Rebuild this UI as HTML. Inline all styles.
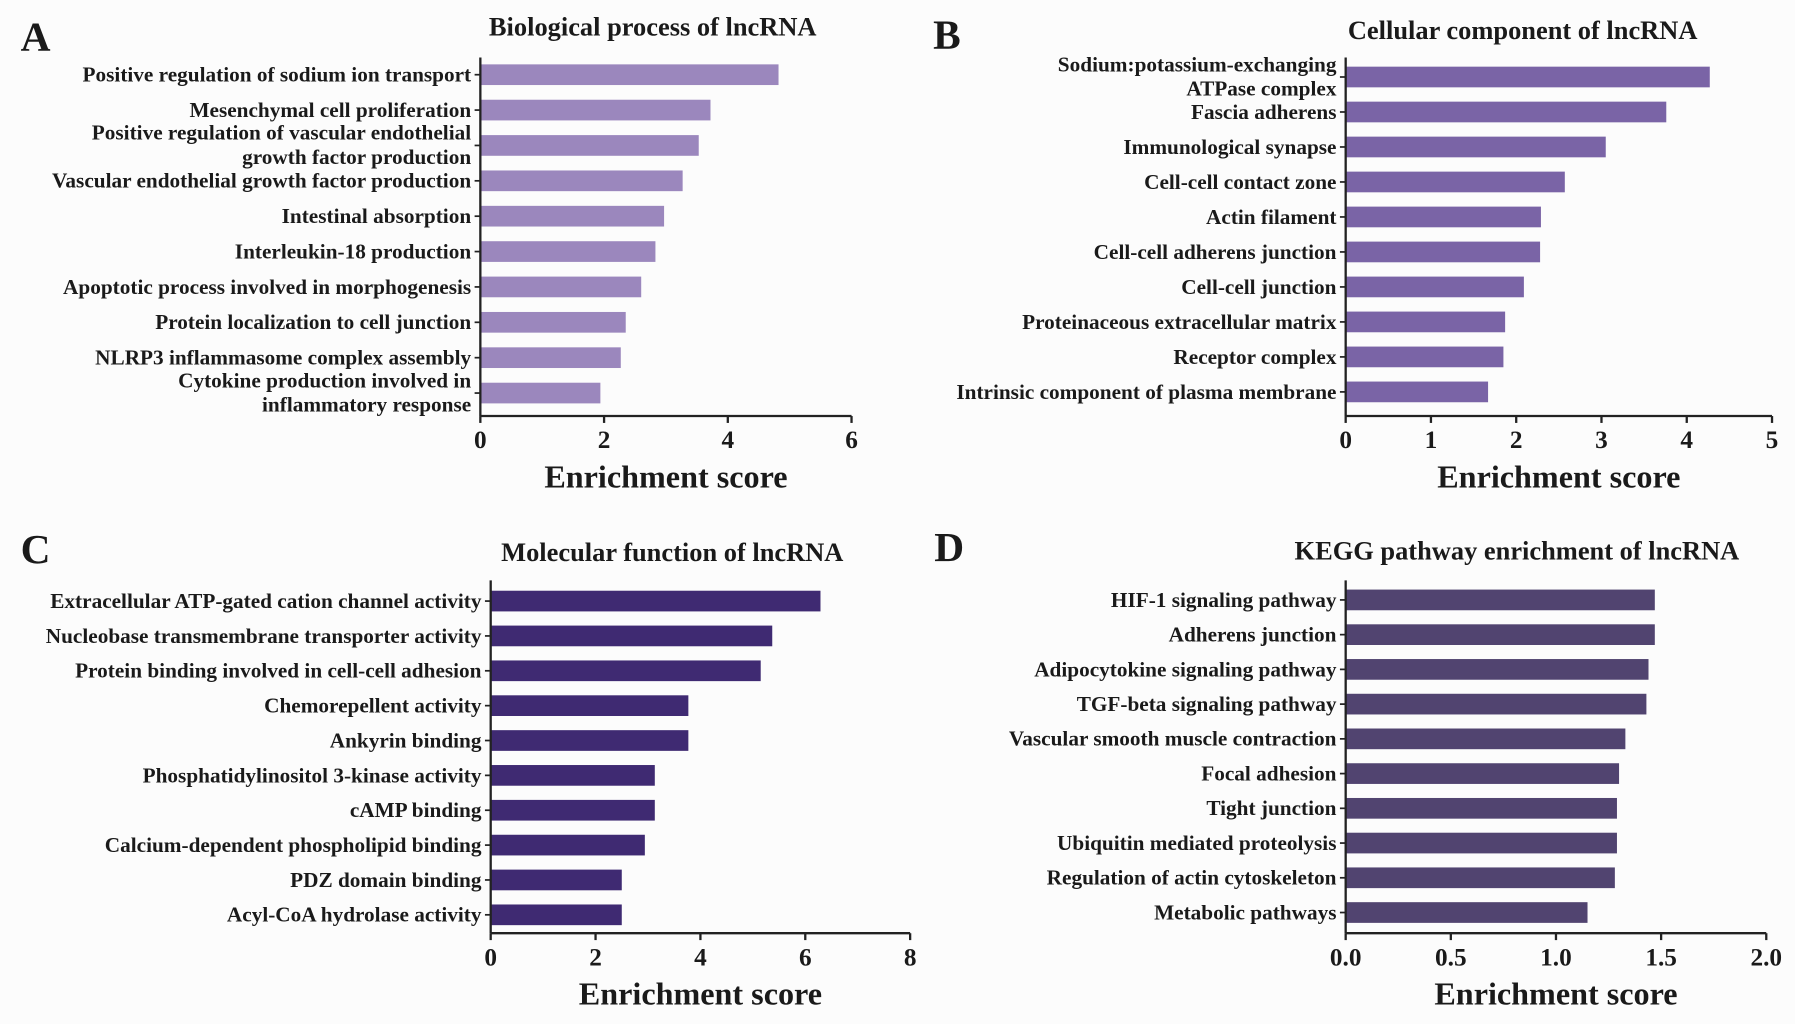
<!DOCTYPE html>
<html><head><meta charset="utf-8"><style>
html,body{margin:0;padding:0;background:#fcfcfc;}
svg{display:block;}
text{font-family:"Liberation Serif",serif;font-weight:bold;fill:#1a1a1a;}
</style></head><body>
<svg id="fig" width="1795" height="1024" viewBox="0 0 1562 891" preserveAspectRatio="none"></svg>
<script>
const catsA = [["Positive regulation of sodium ion transport"],["Mesenchymal cell proliferation"],["Positive regulation of vascular endothelial","growth factor production"],["Vascular endothelial growth factor production"],["Intestinal absorption"],["Interleukin-18 production"],["Apoptotic process involved in morphogenesis"],["Protein localization to cell junction"],["NLRP3 inflammasome complex assembly"],["Cytokine production involved in","inflammatory response"]];
const valsA = [4.82,3.72,3.53,3.27,2.97,2.83,2.6,2.35,2.27,1.94];
const ticksA = ["0","2","4","6"];
const catsB = [["Sodium:potassium-exchanging","ATPase complex"],["Fascia adherens"],["Immunological synapse"],["Cell-cell contact zone"],["Actin filament"],["Cell-cell adherens junction"],["Cell-cell junction"],["Proteinaceous extracellular matrix"],["Receptor complex"],["Intrinsic component of plasma membrane"]];
const valsB = [4.27,3.76,3.05,2.57,2.29,2.28,2.09,1.87,1.85,1.67];
const ticksB = ["0","1","2","3","4","5"];
const catsC = [["Extracellular ATP-gated cation channel activity"],["Nucleobase transmembrane transporter activity"],["Protein binding involved in cell-cell adhesion"],["Chemorepellent activity"],["Ankyrin binding"],["Phosphatidylinositol 3-kinase activity"],["cAMP binding"],["Calcium-dependent phospholipid binding"],["PDZ domain binding"],["Acyl-CoA hydrolase activity"]];
const valsC = [6.29,5.37,5.15,3.77,3.77,3.13,3.13,2.94,2.5,2.5];
const ticksC = ["0","2","4","6","8"];
const catsD = [["HIF-1 signaling pathway"],["Adherens junction"],["Adipocytokine signaling pathway"],["TGF-beta signaling pathway"],["Vascular smooth muscle contraction"],["Focal adhesion"],["Tight junction"],["Ubiquitin mediated proteolysis"],["Regulation of actin cytoskeleton"],["Metabolic pathways"]];
const valsD = [1.47,1.47,1.44,1.43,1.33,1.30,1.29,1.29,1.28,1.15];
const ticksD = ["0.0","0.5","1.0","1.5","2.0"];

const NS="http://www.w3.org/2000/svg";
const svg=document.getElementById('fig');
function mk(tag,attrs,parent,txt){const e=document.createElementNS(NS,tag);for(const k in attrs)e.setAttribute(k,attrs[k]);if(txt!==undefined)e.textContent=txt;(parent||svg).appendChild(e);return e;}

function panel(p,cats,vals,ticks){
  const g=mk('g',{});
  
  
  const tmax=parseFloat(ticks[ticks.length-1]);
  const x=v=>p.x0+(v/tmax)*(p.x1-p.x0);
  const y=i=>p.yFirst+i*(p.yLast-p.yFirst)/(cats.length-1);
  const L=mk('text',{x:p.lx,y:p.ly,'font-size':36},g,p.id.toUpperCase());
  
  
  const T=mk('text',{x:p.tx,y:p.ty,'font-size':23,'text-anchor':'middle'},g,p.title);
  
  
  vals.forEach((v,i)=>{
    const r=mk('rect',{x:p.x0,y:y(i)-9,width:x(v)-p.x0,height:18,fill:p.color},g);
    
    
    mk('line',{x1:p.x0-5,x2:p.x0,y1:y(i),y2:y(i),stroke:'#222','stroke-width':1.5},g);
    const lines=cats[i];
    lines.forEach((s,j)=>{
      const yy = lines.length===1 ? y(i)+6 : y(i)-5+j*21;
      const t=mk('text',{x:p.x0-8,y:yy,'font-size':18.5,'text-anchor':'end'},g,s);
      
      
    });
  });
  mk('line',{x1:p.x0,x2:p.x0,y1:p.yTop,y2:p.yBot,stroke:'#222','stroke-width':2},g);
  mk('line',{x1:p.x0,x2:p.x1,y1:p.yBot,y2:p.yBot,stroke:'#222','stroke-width':2},g);
  ticks.forEach(tk=>{
    const xv=x(parseFloat(tk));
    mk('line',{x1:xv,x2:xv,y1:p.yBot,y2:p.yBot+6,stroke:'#222','stroke-width':2},g);
    const t=mk('text',{x:xv,y:p.yBot+28,'font-size':22,'text-anchor':'middle'},g,tk);
    
    
  });
  const A=mk('text',{x:(p.x0+p.x1)/2,y:p.yBot+62,'font-size':28,'text-anchor':'middle'},g,'Enrichment score');
  
  
}
panel({id:'a',title:'Biological process of lncRNA',color:'#9b87bd',x0:418,x1:741,yFirst:65,yLast:342,yTop:50,yBot:362,lx:18,ly:44,tx:568,ty:31},catsA,valsA,ticksA);
panel({id:'b',title:'Cellular component  of lncRNA',color:'#7a64a6',x0:1171,x1:1542,yFirst:67,yLast:341,yTop:50,yBot:362,lx:812,ly:42,tx:1325,ty:34},catsB,valsB,ticksB);
panel({id:'c',title:'Molecular function of lncRNA',color:'#3f2a72',x0:427,x1:792,yFirst:523,yLast:796,yTop:505,yBot:812,lx:18,ly:490,tx:585,ty:488},catsC,valsC,ticksC);
panel({id:'d',title:'KEGG pathway enrichment of lncRNA',color:'#514470',x0:1171,x1:1537,yFirst:522,yLast:794,yTop:505,yBot:812,lx:813,ly:488,tx:1320,ty:487},catsD,valsD,ticksD);
</script>
</body></html>
